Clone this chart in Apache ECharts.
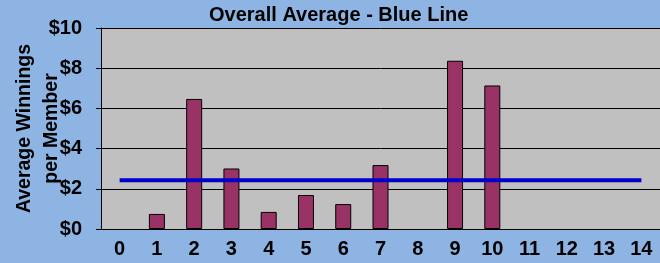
<!DOCTYPE html>
<html>
<head>
<meta charset="utf-8">
<script src="https://cdn.jsdelivr.net/npm/echarts@6/dist/echarts.min.js"></script>
<style>
html, body { margin: 0; padding: 0; background: #8db4e2; }
#chart { width: 660px; height: 263px; }
</style>
</head>
<body>
<div id="chart"></div>
<script>
// categories and values (null = no bar)
var members = ['0', '1', '2', '3', '4', '5', '6', '7', '8', '9', '10', '11', '12', '13', '14'];
var winnings = [null, 0.75, 6.47, 3.01, 0.85, 1.69, 1.24, 3.18, null, 8.37, 7.14, null, null, null, null];
var overallAvg = 2.42;
var avgLine = members.map(function () { return overallAvg; });

var font = "'Liberation Sans', Arial, sans-serif";

var chart = echarts.init(document.getElementById('chart'));
chart.setOption({
  backgroundColor: '#8db4e2',
  animation: false,
  title: {
    text: 'Overall Average - Blue Line',
    left: 204,
    top: 0,
    textStyle: { fontFamily: font, fontSize: 20, fontWeight: 'bold', color: '#000' }
  },
  grid: {
    left: 101, right: 0, top: 28, bottom: 34,
    outerBoundsMode: 'none', containLabel: false,
    show: true, backgroundColor: '#c0c0c0', borderWidth: 0
  },
  xAxis: [{
    type: 'category',
    data: members,
    boundaryGap: true,
    axisLine: { lineStyle: { color: '#000', width: 1 } },
    axisTick: { length: 6, lineStyle: { color: '#000' } },
    axisLabel: { fontFamily: font, fontSize: 20, fontWeight: 'bold', color: '#000', margin: 10 }
  }, {
    type: 'category',
    data: members,
    position: 'bottom',
    boundaryGap: true,
    axisLine: { show: false },
    axisTick: { inside: true, length: 6, lineStyle: { color: '#000' } },
    axisLabel: { show: false }
  }],
  yAxis: {
    type: 'value',
    min: 0,
    max: 10,
    interval: 2,
    name: 'Average Winnings\nper Member',
    nameLocation: 'middle',
    nameGap: 36,
    nameMoveOverlap: false,
    nameTextStyle: {
      fontFamily: font, fontSize: 19.5, fontWeight: 'bold', color: '#000', lineHeight: 27
    },
    axisLine: { show: true, lineStyle: { color: '#000' } },
    axisTick: { show: true, length: 5, lineStyle: { color: '#000' } },
    axisLabel: {
      fontFamily: font, fontSize: 20, fontWeight: 'bold', color: '#000', margin: 19,
      formatter: function (v) { return '$' + v; }
    },
    splitLine: { lineStyle: { color: '#000', width: 1 } }
  },
  series: [{
    type: 'bar',
    data: winnings,
    barWidth: 16,
    itemStyle: { color: '#993366', borderColor: '#000', borderWidth: 1 }
  }, {
    type: 'line',
    data: avgLine,
    symbol: 'none',
    lineStyle: { color: '#0000cc', width: 4 }
  }]
});
</script>
</body>
</html>
